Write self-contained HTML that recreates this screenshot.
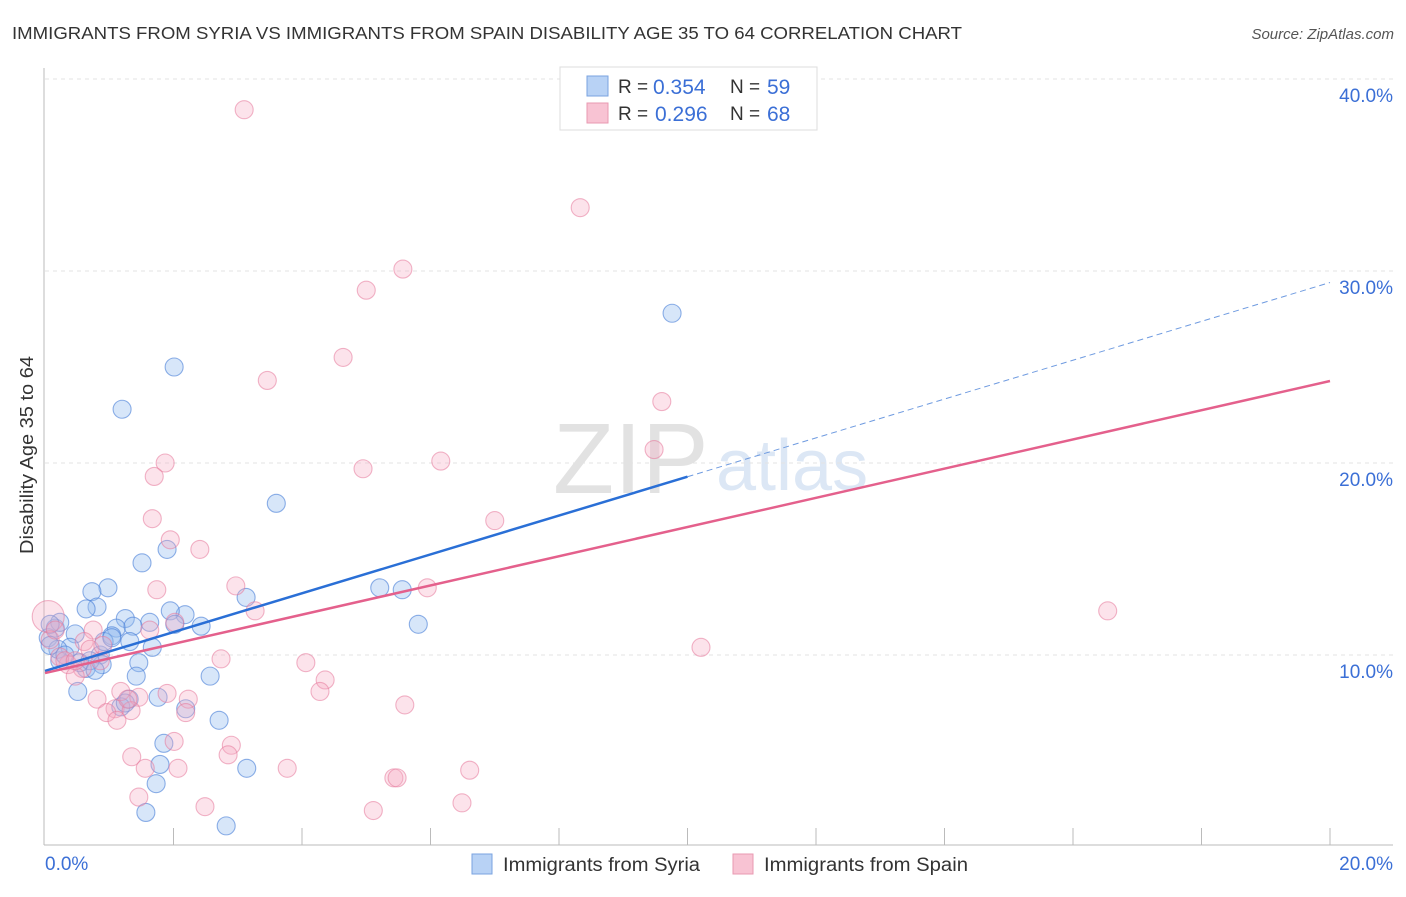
<!DOCTYPE html>
<html><head><meta charset="utf-8"><style>
body{margin:0;background:#fff;font-family:"Liberation Sans",sans-serif;}
svg text{font-family:"Liberation Sans",sans-serif;}
</style></head><body>
<svg width="1406" height="892" xmlns="http://www.w3.org/2000/svg">
<text x="12" y="39" font-size="17.5" fill="#333" textLength="950" lengthAdjust="spacingAndGlyphs">IMMIGRANTS FROM SYRIA VS IMMIGRANTS FROM SPAIN DISABILITY AGE 35 TO 64 CORRELATION CHART</text>
<text x="1394" y="39" font-size="15" fill="#555" font-style="italic" text-anchor="end">Source: ZipAtlas.com</text>
<text x="553" y="493" font-size="100" fill="#e2e2e2" font-family="Liberation Serif">ZIP</text>
<text x="716" y="490" font-size="72" fill="#dce7f5">atlas</text>
<g id="grid"></g><g id="axes"></g><g id="pts"></g><g id="trend"></g>
<text x="33" y="455" font-size="18" fill="#333" text-anchor="middle" textLength="198" lengthAdjust="spacingAndGlyphs" transform="rotate(-90 33 455)">Disability Age 35 to 64</text>
<text x="45" y="870" font-size="19" fill="#3b6fd6">0.0%</text>
<text x="1393" y="870" font-size="19" fill="#3b6fd6" text-anchor="end">20.0%</text>
<g>
<rect x="560" y="67" width="257" height="63" fill="#fff" stroke="#ddd"/>
<rect x="587" y="76" width="21" height="20" fill="#b8d2f5" stroke="#7aa3e0"/>
<rect x="587" y="103" width="21" height="20" fill="#f8c3d3" stroke="#e89ab2"/>
<text x="618" y="93" font-size="19" fill="#333">R =</text>
<text x="653" y="94" font-size="21" fill="#3b6fd6">0.354</text>
<text x="730" y="93" font-size="19" fill="#333">N =</text>
<text x="767" y="94" font-size="21" fill="#3b6fd6">59</text>
<text x="618" y="120" font-size="19" fill="#333">R =</text>
<text x="655" y="121" font-size="21" fill="#3b6fd6">0.296</text>
<text x="730" y="120" font-size="19" fill="#333">N =</text>
<text x="767" y="121" font-size="21" fill="#3b6fd6">68</text>
</g>
<g>
<rect x="472" y="854" width="20" height="20" fill="#b8d2f5" stroke="#7aa3e0"/>
<text x="503" y="871" font-size="19" fill="#333" textLength="197" lengthAdjust="spacingAndGlyphs">Immigrants from Syria</text>
<rect x="733" y="854" width="20" height="20" fill="#f8c3d3" stroke="#e89ab2"/>
<text x="764" y="871" font-size="19" fill="#333" textLength="204" lengthAdjust="spacingAndGlyphs">Immigrants from Spain</text>
</g>
</svg>
<script>
const yTicks=[10,20,30,40];
const yTickLabels=["10.0%","20.0%","30.0%","40.0%"];
const xTicks=[2,4,6,8,10,12,14,16,18,20];
const syriaX=[9.76,2.01,1.20,3.60,1.51,1.90,0.98,0.73,0.81,0.64,1.25,1.63,2.18,1.95,3.13,2.43,1.11,1.37,1.04,0.16,0.23,0.05,0.47,0.39,0.86,0.92,1.32,1.67,1.46,0.89,0.64,0.23,0.20,0.54,1.42,2.57,0.51,1.76,1.31,2.19,1.18,2.71,1.85,1.79,3.14,1.73,1.57,2.82,5.21,5.56,5.81,0.08,0.31,0.70,0.78,1.25,1.04,2.02,0.08];
const syriaY=[27.8,25.0,22.8,17.9,14.8,15.5,13.5,13.3,12.5,12.4,11.9,11.7,12.1,12.3,13.0,11.5,11.4,11.5,11.0,11.4,11.7,10.9,11.1,10.4,10.0,10.7,10.7,10.4,9.6,9.5,9.3,9.7,10.3,9.6,8.9,8.9,8.1,7.8,7.7,7.2,7.3,6.6,5.4,4.3,4.1,3.3,1.8,1.1,13.5,13.4,11.6,10.5,10.0,9.7,9.2,7.5,10.9,11.6,11.6];
const spainX=[3.10,8.33,5.57,5.00,4.64,3.46,9.60,9.48,1.87,1.70,4.95,6.16,1.67,7.00,1.95,2.41,1.74,2.97,5.95,3.27,16.54,2.02,0.75,10.21,2.74,4.06,0.86,0.58,0.36,0.47,4.36,4.28,1.18,1.90,0.81,1.46,2.23,5.60,1.09,1.34,0.96,2.19,1.12,2.01,2.90,1.35,2.85,1.56,2.07,3.77,5.43,5.48,6.61,1.46,2.49,5.11,6.49,0.05,0.08,0.23,0.61,1.29,0.70,0.90,0.16,1.63,0.31,0.47];
const spainY=[38.4,33.3,30.1,29.0,25.5,24.3,23.2,20.7,20.0,19.3,19.7,20.1,17.1,17.0,16.0,15.5,13.4,13.6,13.5,12.3,12.3,11.7,11.3,10.4,9.8,9.6,9.7,9.3,9.5,8.9,8.7,8.1,8.1,8.0,7.7,7.8,7.7,7.4,7.2,7.1,7.0,7.0,6.6,5.5,5.3,4.7,4.8,4.1,4.1,4.1,3.6,3.6,4.0,2.6,2.1,1.9,2.3,12.0,10.8,9.9,10.7,7.7,10.3,10.5,11.3,11.3,9.7,9.7];
const syriaTrend=[9.17,29.4];
const spainTrend=[9.06,24.27];
const NS="http://www.w3.org/2000/svg";
const X=v=>45+v*64.25, Y=v=>847-v*19.2;
function mk(t,a,p){const e=document.createElementNS(NS,t);for(const k in a)e.setAttribute(k,a[k]);p.appendChild(e);return e;}
const grid=document.getElementById('grid'),axes=document.getElementById('axes'),pts=document.getElementById('pts'),tr=document.getElementById('trend');
yTicks.forEach((t,i)=>{
 const l=mk('line',{x1:45,x2:1393,y1:Y(t),y2:Y(t),stroke:'#e3e3e3','stroke-dasharray':'4,4'},grid);
 
 
 const tx=mk('text',{x:1393,y:Y(t)+23,'font-size':19,fill:'#3b6fd6','text-anchor':'end'},grid);
 tx.textContent=yTickLabels[i];
 
 
});
const ya=mk('line',{x1:44,x2:44,y1:68,y2:845,stroke:'#bbb'},axes);


const xa=mk('line',{x1:44,x2:1393,y1:845,y2:845,stroke:'#bbb'},axes);


xTicks.forEach(t=>{
 const l=mk('line',{x1:X(t),x2:X(t),y1:828,y2:845,stroke:'#bbb'},axes);
 
 
});
syriaX.forEach((v,i)=>{
 const c=mk('circle',{cx:X(v),cy:Y(syriaY[i]),r:9,fill:'rgba(150,190,240,0.38)',stroke:'rgba(70,125,215,0.6)','stroke-width':1.1},pts);
 
 
});
spainX.forEach((v,i)=>{
 const c=mk('circle',{cx:X(v),cy:Y(spainY[i]),r:i==57?16:9,fill:'rgba(245,170,195,0.33)',stroke:'rgba(230,120,155,0.55)','stroke-width':1.1},pts);
 
 
});
const xm=10, ym=syriaTrend[0]+(syriaTrend[1]-syriaTrend[0])*xm/20;
const b1=mk('line',{x1:X(0),y1:Y(syriaTrend[0]),x2:X(xm),y2:Y(ym),stroke:'#2a6fd6','stroke-width':2.5},tr);


const b2=mk('line',{x1:X(xm),y1:Y(ym),x2:X(20),y2:Y(syriaTrend[1]),stroke:'#6f9be0','stroke-width':1,'stroke-dasharray':'6,4'},tr);


const p1=mk('line',{x1:X(0),y1:Y(spainTrend[0]),x2:X(20),y2:Y(spainTrend[1]),stroke:'#e4608c','stroke-width':2.5},tr);


</script>
</body></html>
